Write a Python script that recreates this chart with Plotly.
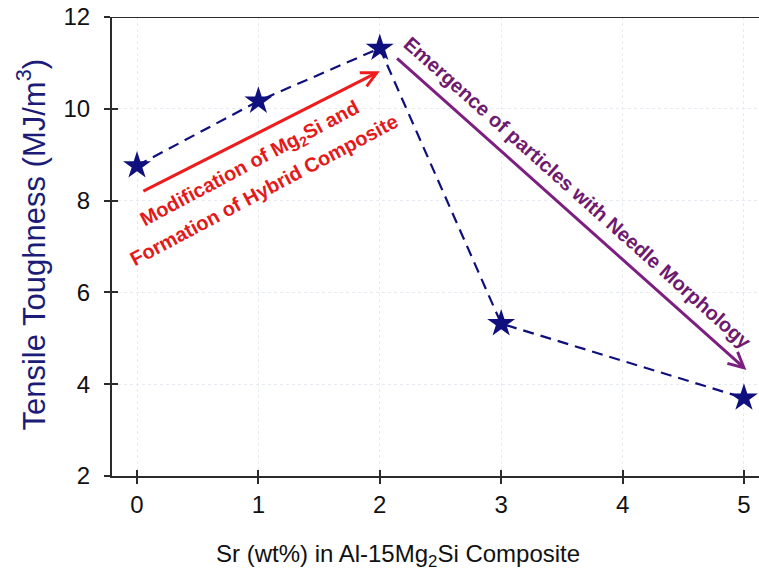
import plotly.graph_objects as go

# Tensile toughness versus Sr addition
sr_wt = [0, 1, 2, 3, 5]
toughness = [8.76, 10.17, 11.32, 5.32, 3.70]

x_ticks = [0, 1, 2, 3, 4, 5]
y_ticks = [2, 4, 6, 8, 10, 12]

NAVY = "#0f0f7d"
AXIS = "#2b2b2b"
GRID = "#e6ebf1"
SANS = "Liberation Sans, Arial"

x_range = [-0.206, 5.124]
y_range = [2, 12]

fig = go.Figure()

fig.add_trace(go.Scatter(
    x=sr_wt, y=toughness, mode="lines+markers",
    line=dict(color=NAVY, width=2.2, dash="11px,7px"),
    marker=dict(symbol="star", size=21, color=NAVY, line=dict(width=0)),
    showlegend=False, hoverinfo="skip",
))

# invisible trace on the overlay axes so they render inward ticks
fig.add_trace(go.Scatter(x=[None], y=[None], xaxis="x2", yaxis="y2",
                         showlegend=False, hoverinfo="skip"))

common_tick = dict(family=SANS, size=24, color="#111111")

fig.update_layout(
    width=759, height=577,
    margin=dict(l=112, r=0, t=17, b=101),
    plot_bgcolor="white", paper_bgcolor="white",
    xaxis=dict(range=x_range, tickvals=x_ticks, ticks="outside", ticklen=6,
               tickwidth=1.5, tickcolor=AXIS, showline=True, linecolor=AXIS,
               linewidth=2, showgrid=True, gridcolor=GRID, griddash="dot",
               gridwidth=1, zeroline=False, tickfont=common_tick,
               ticklabelstandoff=0),
    yaxis=dict(range=y_range, tickvals=y_ticks, ticks="outside", ticklen=6,
               tickwidth=1.5, tickcolor=AXIS, showline=True, linecolor=AXIS,
               linewidth=2, showgrid=True, gridcolor=GRID, griddash="dot",
               gridwidth=1, zeroline=False, tickfont=common_tick,
               ticklabelstandoff=9),
    xaxis2=dict(range=x_range, tickvals=x_ticks, ticks="inside", ticklen=6,
                tickwidth=1.5, tickcolor=AXIS, showticklabels=False,
                showgrid=False, zeroline=False, overlaying="x", side="bottom"),
    yaxis2=dict(range=y_range, tickvals=y_ticks, ticks="inside", ticklen=6,
                tickwidth=1.5, tickcolor=AXIS, showticklabels=False,
                showgrid=False, zeroline=False, overlaying="y", side="left"),
)

# top frame line
fig.add_shape(type="line", xref="paper", yref="y", x0=0, x1=1,
              y0=y_range[1], y1=y_range[1], line=dict(color=AXIS, width=2))

# axis titles
fig.add_annotation(text="Tensile Toughness (MJ/m<sup>3</sup>)", xref="paper",
                   yref="paper", x=0, y=0.5, xshift=-81, yshift=2,
                   textangle=-90, showarrow=False, xanchor="center",
                   yanchor="middle",
                   font=dict(family=SANS, size=31, color="#1c1c78"))
fig.add_annotation(text="Sr (wt%) in Al-15Mg<sub>2</sub>Si Composite",
                   xref="paper", yref="paper", x=0.442, y=0, yshift=-79,
                   showarrow=False, xanchor="center", yanchor="middle",
                   font=dict(family=SANS, size=24, color="#111111"))

# trend arrows
RED = "#ee1c1c"
PURPLE = "#7d1f80"
fig.add_annotation(x=2.0, y=10.82, ax=0.04, ay=8.19, xref="x", yref="y",
                   axref="x", ayref="y", text="", showarrow=True,
                   arrowhead=5, arrowsize=1.0, arrowwidth=3, arrowcolor=RED,
                   standoff=0, startstandoff=0)
fig.add_annotation(x=5.02, y=4.31, ax=2.13, ay=11.13, xref="x", yref="y",
                   axref="x", ayref="y", text="", showarrow=True,
                   arrowhead=5, arrowsize=1.0, arrowwidth=3, arrowcolor=PURPLE,
                   standoff=0, startstandoff=0)

# arrow captions
fig.add_annotation(text="<b>Modification of Mg<sub>2</sub>Si and</b>", x=0.931,
                   y=8.786, xref="x", yref="y", showarrow=False, textangle=-28,
                   font=dict(family=SANS, size=20, color="#e41a1a"))
fig.add_annotation(text="<b>Formation of Hybrid Composite</b>", x=1.046,
                   y=8.231, xref="x", yref="y", showarrow=False, textangle=-28,
                   font=dict(family=SANS, size=20, color="#e41a1a"))
fig.add_annotation(text="<b>Emergence of particles with Needle Morphology</b>",
                   x=3.633, y=8.166, xref="x", yref="y", showarrow=False,
                   textangle=41.7,
                   font=dict(family=SANS, size=20, color="#6e1a6e"))

fig.write_html("out.html")
